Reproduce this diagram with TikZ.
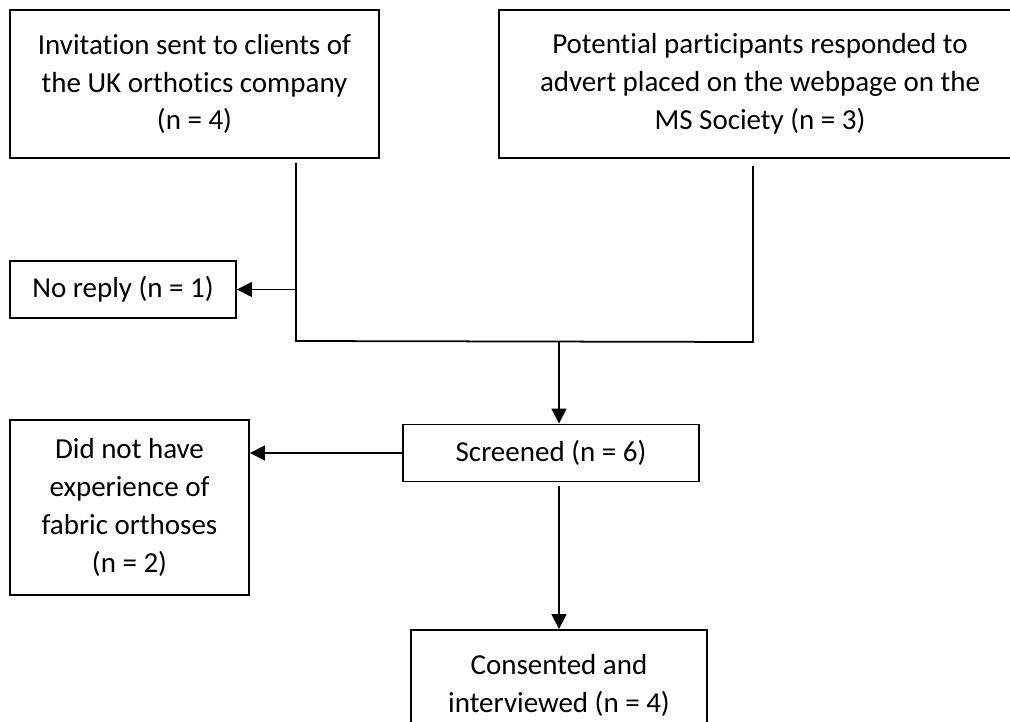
\documentclass[tikz,border=0pt]{standalone}
\usepackage{fontspec}
\setmainfont{Carlito}[Ligatures=NoCommon]
\usetikzlibrary{arrows.meta}
\tikzset{
  box/.style={draw, line width=1.1pt, align=center, inner sep=0pt,
    font=\fontsize{16.5}{21.6}\selectfont},
  conn/.style={line width=1pt},
  arr/.style={conn, -{Triangle[length=8.5pt,width=8.5pt]}}
}
\begin{document}
\begin{tikzpicture}[x=0.02cm,y=-0.02cm]
    \useasboundingbox (0,0) rectangle (1010,722);
    \node[box, minimum width=7.38cm, minimum height=2.96cm] (invite) at (194.5,84)
      {Invitation sent to clients of\\the UK orthotics company\\(n = 4)};
    \node[box, minimum width=10.44cm, minimum height=2.96cm] (advert) at (760,84)
      {Potential participants responded to\\advert placed on the webpage on the\\MS Society (n = 3)};
    \node[box, minimum width=4.52cm, minimum height=1.14cm] (noreply) at (123,289.5)
      {No reply (n = 1)};
    \node[box, minimum width=5.92cm, minimum height=1.14cm] (screened) at (551,453)
      {Screened (n = 6)};
    \node[box, minimum width=4.78cm, minimum height=3.5cm] (noexp) at (129.5,507.5)
      {Did not have\\experience of\\fabric orthoses\\(n = 2)};
    \node[box, minimum width=5.92cm, minimum height=2.2cm] (consent) at (559,685)
      {Consented and\\interviewed (n = 4)};

    \coordinate (leftstart) at (296,163);
    \coordinate (rightstart) at (753,166);
    \coordinate (leftdrop) at (296,341);
    \coordinate (rightdrop) at (753,342);
    \coordinate (merge) at (559,342);
    \coordinate (screenout) at (559,486);

    \draw[conn] (leftstart) -- (leftdrop) -- (rightdrop) -- (rightstart);
    \draw[arr] (noreply.east -| leftstart) -- (noreply.east);
    \draw[arr] (merge) -- (screened.north -| merge);
    \draw[arr] (screened.west) -- (screened.west -| noexp.east);
    \draw[arr] (screenout) -- (consent.north);
  \end{tikzpicture}
\end{document}
